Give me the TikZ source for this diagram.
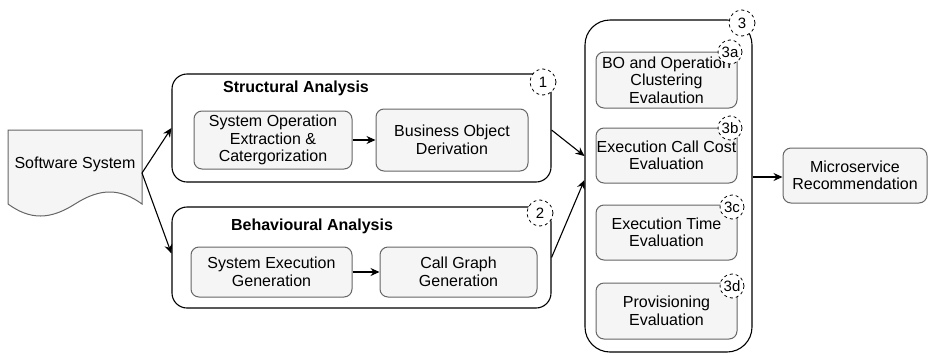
\documentclass[tikz,border=0pt]{standalone}
\usepackage{fontspec}
\setmainfont{Liberation Sans}
\usetikzlibrary{positioning,calc,arrows.meta}

\definecolor{boxfill}{HTML}{F5F5F5}
\definecolor{boxline}{HTML}{666666}

\tikzset{
    every node/.style={font=\fontsize{16}{17.5}\selectfont, align=center, inner sep=0pt},
    group/.style={draw=black, line width=1.1pt, fill=white, rounded corners=15pt},
    task/.style={draw=boxline, line width=1pt, fill=boxfill, rounded corners=8pt},
    title/.style={font=\fontsize{16}{18}\selectfont\bfseries},
    badge/.style={circle, draw=black, dashed, line width=0.8pt, fill=white, minimum size=#1, font=\fontsize{15}{18}\selectfont},
    badge/.default=26pt,
    flow/.style={line width=1.1pt, -{Stealth[length=9pt,width=8pt]}}
}

\begin{document}
\begin{tikzpicture}[x=1pt, y=-1pt]
    \useasboundingbox (0,0) rectangle (929,354);

    % input document
    \draw[draw=boxline, line width=1pt, fill=boxfill] (8,130) -- (142,130) -- (142,204)
        .. controls (120,188) and (100,188) .. (75,204)
        .. controls (50,220) and (30,220) .. (8,204) -- cycle;
    \node (soft) at (75,164) {Software System};
    \coordinate (softR) at (142,173);

    % analysis groups
    \node[group, minimum width=379pt, minimum height=108pt] (struct) at (361.5,128) {};
    \node[title] (structT) at (296,88) {Structural Analysis};
    \node[task, minimum width=158pt, minimum height=58pt] (sop) at (273,140) {System Operation\\Extraction \&\\Catergorization};
    \node[task, minimum width=152pt, minimum height=62pt] (bod) at (452,140) {Business Object\\Derivation};
    \node[badge] (b1) at (543,82) {1};

    \node[group, minimum width=379pt, minimum height=101pt] (behav) at (361.5,257.5) {};
    \node[title] (behavT) at (312,226) {Behavioural Analysis};
    \node[task, minimum width=161pt, minimum height=50pt] (sex) at (271.5,272) {System Execution\\Generation};
    \node[task, minimum width=157pt, minimum height=50pt] (cg) at (458.5,272) {Call Graph\\Generation};
    \node[badge] (b2) at (540,213) {2};

    % evaluation group
    \node[group, rounded corners=25pt, minimum width=167pt, minimum height=332pt] (eval) at (668.5,186) {};
    \node[task, minimum width=141pt, minimum height=56pt] (boc) at (666.5,80) {BO and Operation\\Clustering\\Evalaution};
    \node[task, minimum width=141pt, minimum height=55pt] (ecc) at (666.5,155.5) {Execution Call Cost\\Evaluation};
    \node[task, minimum width=141pt, minimum height=55pt] (etm) at (666.5,232.5) {Execution Time\\Evaluation};
    \node[task, minimum width=141pt, minimum height=56pt] (prv) at (666.5,311) {Provisioning\\Evaluation};
    \node[badge] (b3) at (742,23) {3};
    \node[badge=24pt] (b3a) at (730,52) {3a};
    \node[badge=24pt] (b3b) at (730,128) {3b};
    \node[badge=24pt] (b3c) at (732,207) {3c};
    \node[badge=24pt] (b3d) at (732,286) {3d};

    % result
    \node[task, minimum width=144pt, minimum height=55pt] (micro) at (855,175.5) {Microservice\\Recommendation};

    % connectors
    \draw[flow] (softR) -- (struct.west);
    \draw[flow] (softR) -- ([yshift=4pt]behav.west);
    \draw[flow] (sop) -- (bod);
    \draw[flow] (sex) -- (cg);
    \draw[flow] ([yshift=-2pt]struct.east) -- ([yshift=30pt]eval.west);
    \draw[flow] (behav.east) -- ([yshift=6pt]eval.west);
    \draw[flow] (eval.east |- 0,177) -- (micro.west |- 0,177);
\end{tikzpicture}
\end{document}
